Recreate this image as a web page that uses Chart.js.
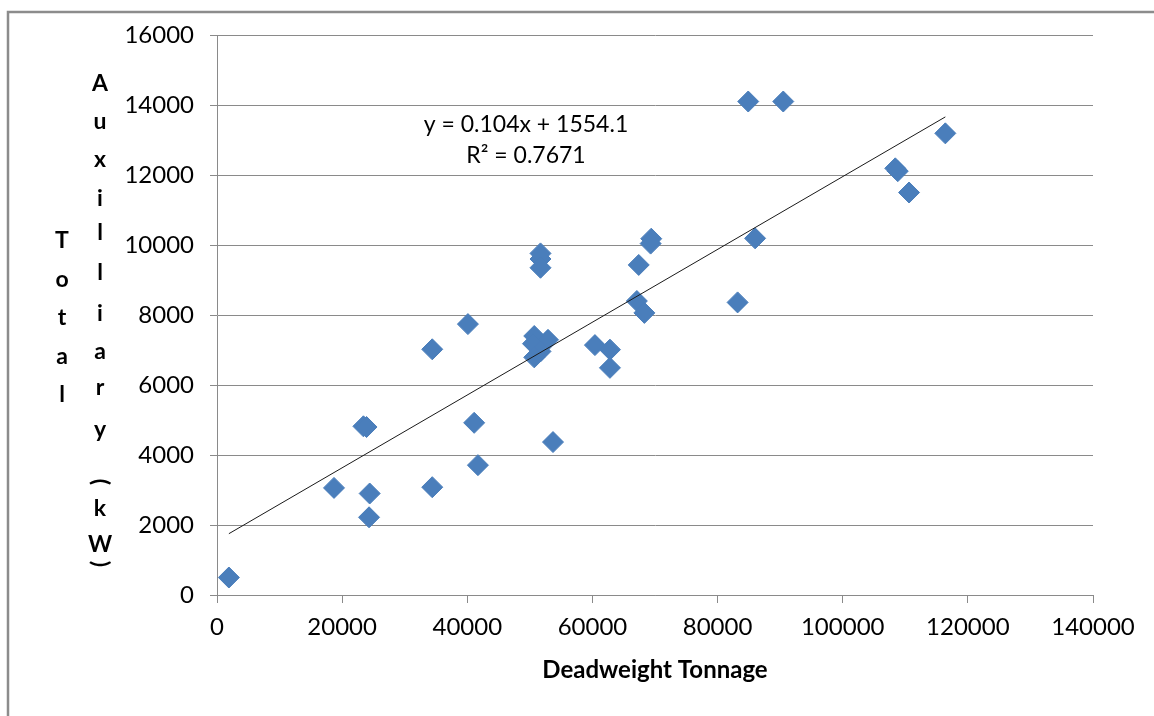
<!DOCTYPE html>
<html>
<head>
<meta charset="utf-8">
<script src="https://cdn.jsdelivr.net/npm/chart.js@4.4.1/dist/chart.umd.min.js"></script>
<style>
  body { margin: 0; background: #fff; }
  canvas { display: block; }
</style>
</head>
<body>
<canvas id="chart" width="1154" height="716"></canvas>
<script>
// deadweight tonnage vs total auxiliary power
const dwt = [
  1900, 18700, 23400, 23900, 24400, 24300, 34400, 34400, 40100, 41100,
  41700, 51700, 51700, 51700, 50700, 52900, 50500, 51700, 50700, 53700,
  60400, 62800, 62800, 67100, 68300, 67400, 69400, 69300, 83200, 84900,
  90500, 86000, 108400, 108800, 110600, 116400,
];
const auxPower = [
  500, 3060, 4820, 4800, 2900, 2220, 7020, 3080, 7740, 4920,
  3710, 9760, 9600, 9350, 7400, 7290, 7180, 6960, 6790, 4370,
  7140, 7010, 6490, 8400, 8060, 9430, 10180, 10040, 8360, 14100,
  14100, 10190, 12190, 12110, 11500, 13190,
];

// linear trendline as printed on the chart
const slope = 0.104;
const intercept = 1554.1;
const trendX = [1900, 116400];
const equationText = ['y = 0.104x + 1554.1', 'R\u00b2 = 0.7671'];

const xTitle = 'Deadweight Tonnage';
const yTitleLeft = 'Total';
const yTitleRight = 'Auxilliary(kW)';

const FONT = 'Lato, "Open Sans", "Liberation Sans", sans-serif';
const gridGray = '#8a8a8a';

const points = dwt.map((x, i) => ({ x, y: auxPower[i] }));
const trend = trendX.map((x) => ({ x, y: slope * x + intercept }));

// white background + frame around the figure
const framePlugin = {
  id: 'frame',
  beforeDraw(chart) {
    const { ctx } = chart;
    ctx.save();
    ctx.fillStyle = '#fff';
    ctx.fillRect(0, 0, chart.width, chart.height);
    ctx.strokeStyle = '#8c8c8c';
    ctx.lineWidth = 2.5;
    ctx.beginPath();
    ctx.moveTo(8, chart.height);
    ctx.lineTo(8, 12);
    ctx.lineTo(chart.width, 12);
    ctx.stroke();
    ctx.restore();
  },
};

// stacked vertical y title + trendline equation
const labelsPlugin = {
  id: 'labels',
  afterDraw(chart) {
    const { ctx } = chart;
    ctx.save();
    ctx.fillStyle = '#000';
    ctx.textAlign = 'center';
    ctx.textBaseline = 'middle';
    ctx.font = 'bold 23px ' + FONT;

    let y = 241;
    for (const ch of yTitleLeft) {
      ctx.fillText(ch, 62, y);
      y += 38.5;
    }

    const gaps = [38, 38, 39, 34, 40, 41, 38, 36, 42, 52, 27, 36, 19];
    y = 84;
    [...yTitleRight].forEach((ch, i) => {
      if (ch === '(' || ch === ')') {
        ctx.save();
        ctx.translate(100, y);
        ctx.rotate(Math.PI / 2);
        ctx.fillText(ch, 0, 0);
        ctx.restore();
      } else {
        ctx.fillText(ch, 100, y);
      }
      y += gaps[i] || 0;
    });

    ctx.font = '23px ' + FONT;
    ctx.fillText(equationText[0], 526, 125);
    ctx.fillText(equationText[1], 526, 156);
    ctx.restore();
  },
};

const plainNumber = (value) => String(value);

new Chart(document.getElementById('chart'), {
  type: 'scatter',
  data: {
    datasets: [
      {
        label: 'Linear trend',
        data: trend,
        showLine: true,
        borderColor: '#1a1a1a',
        borderWidth: 1,
        pointRadius: 0,
        fill: false,
      },
      {
        label: 'Total auxiliary power',
        data: points,
        pointStyle: 'rectRot',
        pointRadius: 10.5,
        pointHoverRadius: 10.5,
        backgroundColor: '#4a7ebb',
        borderColor: '#4a7ebb',
        borderWidth: 1,
      },
    ],
  },
  options: {
    responsive: false,
    animation: false,
    layout: { padding: { left: 0, top: 35, right: 61, bottom: 0 } },
    plugins: {
      legend: { display: false },
      tooltip: { enabled: false },
    },
    scales: {
      x: {
        type: 'linear',
        min: 0,
        max: 140000,
        afterFit: (scale) => { scale.height = 121; },
        ticks: {
          stepSize: 20000,
          color: '#000',
          padding: 10,
          maxRotation: 0,
          callback: plainNumber,
          font: { family: FONT, size: 24 },
        },
        grid: {
          drawOnChartArea: false,
          drawTicks: true,
          tickLength: 8,
          color: gridGray,
        },
        border: { color: gridGray, width: 1 },
        title: {
          display: true,
          text: xTitle,
          color: '#000',
          font: { family: FONT, size: 24, weight: 'bold' },
          padding: { top: 4, bottom: 31 },
        },
      },
      y: {
        type: 'linear',
        min: 0,
        max: 16000,
        afterFit: (scale) => { scale.width = 217; },
        ticks: {
          stepSize: 2000,
          color: '#000',
          padding: 16,
          callback: plainNumber,
          font: { family: FONT, size: 24 },
        },
        grid: {
          color: gridGray,
          lineWidth: 1,
          tickLength: 7,
        },
        border: { color: gridGray, width: 1 },
      },
    },
  },
  plugins: [framePlugin, labelsPlugin],
});
</script>
</body>
</html>
